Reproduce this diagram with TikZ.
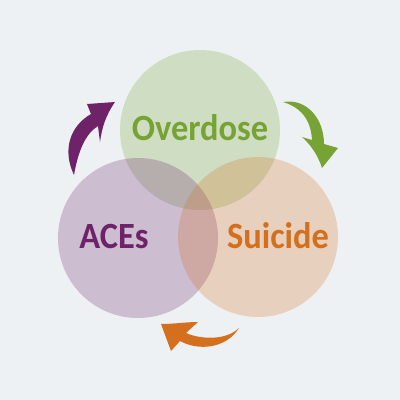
\documentclass[tikz,border=0pt]{standalone}
\usepackage{fontspec}
\setmainfont{Carlito}[FakeStretch=0.93]
\definecolor{bgc}{RGB}{238,241,243}
\definecolor{ogreen}{RGB}{118,163,52}
\definecolor{apurple}{RGB}{110,34,104}
\definecolor{sorange}{RGB}{212,111,30}
\tikzset{
  venn/.style={circle, minimum size=160pt, inner sep=0pt, fill opacity=0.25, draw=none},
  lbl/.style={font=\bfseries\fontsize{37}{40}\selectfont, anchor=base, inner sep=0pt},
}
\begin{document}
\begin{tikzpicture}[x=1pt,y=-1pt]
\fill[bgc] (0,0) rectangle (400,400);
\useasboundingbox (0,0) rectangle (400,400);
\node[venn, fill=ogreen] (cO) at (200,130) {};
\node[venn, fill=apurple] (cA) at (138,238) {};
\node[venn, fill=sorange] (cS) at (258,237) {};
\node[lbl, text=ogreen] (tO) at (200,140) {Overdose};
\node[lbl, text=apurple] (tA) at (114,248) {ACEs};
\node[lbl, text=sorange] (tS) at (278,248) {Suicide};
% purple arrow
\fill[apurple] (74,175) .. controls (62,150) and (70,126) .. (91,114) -- (87,104) -- (115,102)
  .. controls (106,115) and (102,127) .. (100,142) -- (98,126)
  .. controls (85,134) and (78,152) .. (74,175) -- cycle;
% green arrow
\fill[ogreen] (283,102) .. controls (306,98) and (324,118) .. (324,144) -- (338,148) -- (322,168)
  .. controls (318,155) and (310,144) .. (302,137) -- (312,140)
  .. controls (311,119) and (300,107) .. (283,102) -- cycle;
% orange arrow
\fill[sorange] (239,328) .. controls (226,349) and (198,351) .. (180,341) -- (171,351) -- (161,324)
  .. controls (174,324) and (186,322) .. (198,322) -- (186,333)
  .. controls (202,340) and (227,340) .. (239,328) -- cycle;
\end{tikzpicture}
\end{document}
